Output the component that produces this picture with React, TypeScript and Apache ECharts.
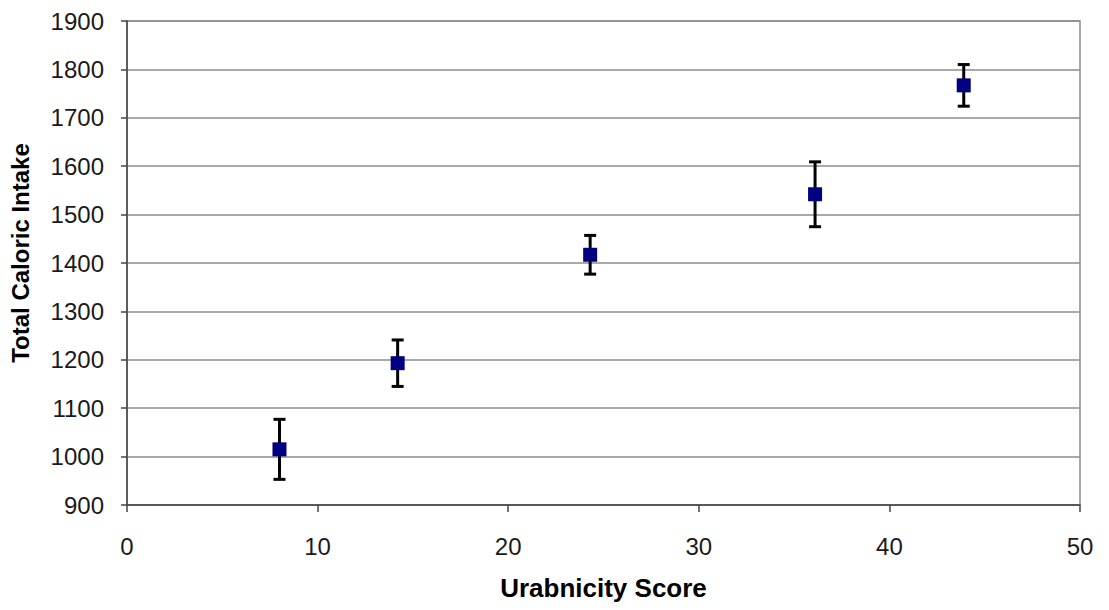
import React, { useEffect, useRef } from "react";
import * as echarts from "echarts";

const xValues = [8.0, 14.2, 24.3, 36.1, 43.9];
const meanValues = [1015, 1193, 1417, 1542, 1767];
const errorValues = [62, 48, 40, 67, 43];
const xTicks = { min: 0, max: 50, interval: 10 };
const yTicks = { min: 900, max: 1900, interval: 100 };

const FONT = "'Liberation Sans', Arial, sans-serif";

export default function App() {
  const ref = useRef<HTMLDivElement>(null);
  useEffect(() => {
    if (!ref.current) return;
    const chart = echarts.init(ref.current, null, { renderer: "svg" });
    const points = xValues.map((x, i) => [x, meanValues[i]]);
    const bars = xValues.map((x, i) => [x, meanValues[i] - errorValues[i], meanValues[i] + errorValues[i]]);
    chart.setOption({
      animation: false,
      backgroundColor: "#ffffff",
      grid: {
        left: 127,
        right: 29,
        top: 21,
        bottom: 105,
        show: true,
        borderColor: "#8c8c8c",
        borderWidth: 1.5,
      },
      xAxis: {
        type: "value",
        min: xTicks.min,
        max: xTicks.max,
        interval: xTicks.interval,
        name: "Urabnicity Score",
        nameLocation: "middle",
        nameGap: 70,
        nameTextStyle: { fontFamily: FONT, fontSize: 26, fontWeight: "bold", color: "#000" },
        axisLine: { show: true, onZero: false, lineStyle: { color: "#444", width: 1.5 } },
        axisTick: { show: true, length: 7, lineStyle: { color: "#444", width: 1.5 } },
        axisLabel: { fontFamily: FONT, fontSize: 24, color: "#1a1a1a", margin: 29 },
        splitLine: { show: false },
      },
      yAxis: {
        type: "value",
        min: yTicks.min,
        max: yTicks.max,
        interval: yTicks.interval,
        name: "Total Caloric Intake",
        nameLocation: "middle",
        nameGap: 95,
        nameTextStyle: { fontFamily: FONT, fontSize: 24, fontWeight: "bold", color: "#000", padding: [0, 0, 0, 20] },
        axisLine: { show: true, lineStyle: { color: "#444", width: 1.5 } },
        axisTick: { show: true, length: 6, lineStyle: { color: "#444", width: 1.5 } },
        axisLabel: { fontFamily: FONT, fontSize: 24, color: "#1a1a1a", margin: 23, formatter: (v: number) => String(v) },
        splitLine: { show: true, lineStyle: { color: "#8c8c8c", width: 1.5 } },
      },
      series: [
        {
          type: "custom",
          z: 2,
          data: bars,
          renderItem: (params: any, api: any) => {
            const x = api.value(0);
            const lo = api.coord([x, api.value(1)]);
            const hi = api.coord([x, api.value(2)]);
            const half = 6;
            const style = { stroke: "#000", lineWidth: 3 };
            return {
              type: "group",
              children: [
                { type: "line", shape: { x1: lo[0], y1: lo[1], x2: hi[0], y2: hi[1] }, style },
                { type: "line", shape: { x1: hi[0] - half, y1: hi[1], x2: hi[0] + half, y2: hi[1] }, style },
                { type: "line", shape: { x1: lo[0] - half, y1: lo[1], x2: lo[0] + half, y2: lo[1] }, style },
              ],
            };
          },
        },
        {
          type: "scatter",
          z: 3,
          data: points,
          symbol: "rect",
          symbolSize: 14,
          itemStyle: { color: "#000080", borderWidth: 0, opacity: 1 },
        },
      ],
    });
    return () => chart.dispose();
  }, []);
  return (
    <div
      ref={ref}
      style={{ position: "fixed", left: 0, top: 0, width: 1109, height: 610 }}
    />
  );
}
